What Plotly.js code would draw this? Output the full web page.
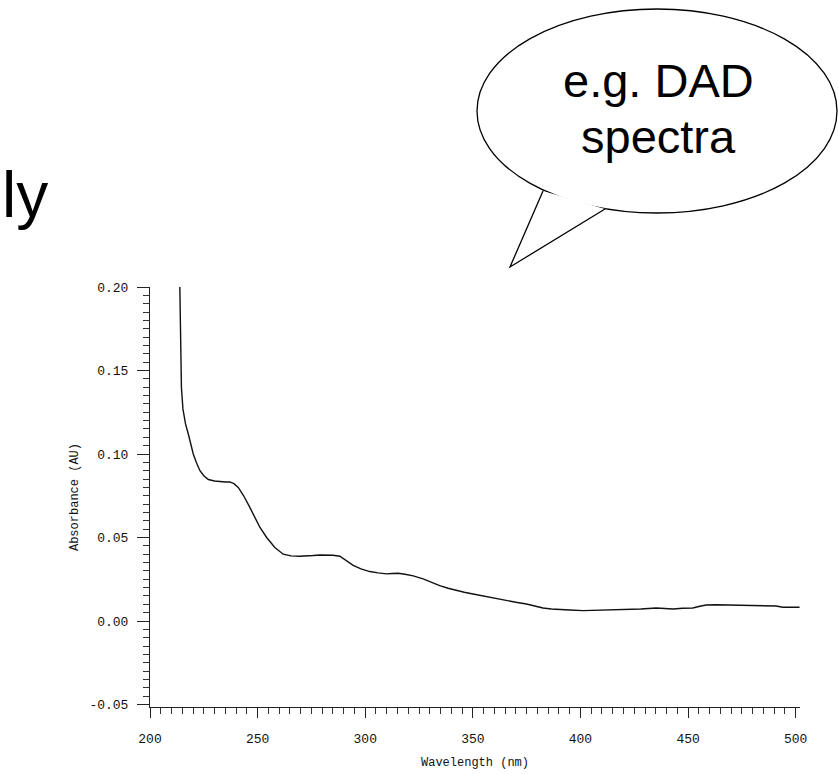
<!DOCTYPE html>
<html>
<head>
<meta charset="utf-8">
<script src="https://cdn.plot.ly/plotly-3.0.1.min.js"></script>
<style>
html,body{margin:0;padding:0;background:#fff;}
#chart{width:838px;height:774px;}
</style>
</head>
<body>
<div id="chart"></div>
<script>
// Wavelength (nm)
const wavelength = [213.8,214.2,214.6,215.3,216.5,217.8,219.0,220.1,221.5,223.2,225.0,227.1,230.0,232.5,235.0,237.1,239.0,241.0,243.5,246.4,249.0,251.1,254.2,258.0,261.9,265.5,269.6,272.5,275.8,279.0,282.0,285.0,288.2,291.0,294.4,298.0,302.1,306.0,309.9,312.5,315.3,318.5,322.3,326.9,330.5,334.6,338.5,342.4,346.0,350.1,354.7,360.0,365.6,370.0,374.9,378.5,382.6,386.5,390.4,395.0,401.2,406.0,412.0,416.5,421.3,428.0,435.2,439.0,443.0,447.5,452.2,455.5,458.4,463.0,469.3,475.0,480.0,486.0,490.9,494.0,498.0,501.8];
// Absorbance (AU)
const absorbance = [0.205,0.160,0.140,0.127,0.118,0.112,0.106,0.100,0.095,0.090,0.087,0.0847,0.0838,0.0833,0.0832,0.0833,0.0822,0.0800,0.0750,0.0680,0.0615,0.0560,0.0500,0.0440,0.0400,0.0390,0.0388,0.0388,0.0392,0.0395,0.0396,0.0394,0.0388,0.0365,0.0333,0.0312,0.0296,0.0288,0.0282,0.0284,0.0286,0.0280,0.0270,0.0252,0.0232,0.0212,0.0196,0.0182,0.0172,0.0162,0.0150,0.0138,0.0122,0.0112,0.0102,0.0090,0.0078,0.0072,0.0068,0.0066,0.0062,0.0064,0.0062,0.0066,0.0070,0.0072,0.0078,0.0076,0.0072,0.0076,0.0078,0.0088,0.0096,0.0097,0.0096,0.0094,0.0094,0.0093,0.0090,0.0082,0.0082,0.0082];
// Tick labels
const xTickVals = [200,250,300,350,400,450,500];
const xTickText = ["200","250","300","350","400","450","500"];
const yTickVals = [-0.05,0.00,0.05,0.10,0.15,0.20];
const yTickText = ["-0.05","0.00","0.05","0.10","0.15","0.20"];
const xTitle = "Wavelength (nm)";
const yTitle = "Absorbance (AU)";
const bubbleLines = ["e.g. DAD","spectra"];
const sideText = "ly";

// page geometry (pixels)
const W = 838, H = 774;
const M = {l:150, r:38, t:287, b:67};
const pw = W - M.l - M.r, ph = H - M.t - M.b;
const px = x => (x - M.l) / pw;          // pixel -> paper x
const py = y => (H - M.b - y) / ph;      // pixel -> paper y

const mono = "'Liberation Mono', 'DejaVu Sans Mono', monospace";
const sans = "'Liberation Sans', Arial, sans-serif";

const trace = {
  x: wavelength, y: absorbance, type: 'scatter', mode: 'lines',
  line: {color: '#111', width: 1.4}, hoverinfo: 'skip'
};

const layout = {
  width: W, height: H,
  margin: M,
  paper_bgcolor: '#fff', plot_bgcolor: '#fff',
  showlegend: false,
  xaxis: {
    range: [200, 502], showgrid: false, zeroline: false,
    showline: true, linecolor: '#222', linewidth: 1,
    ticks: 'outside', ticklen: 10, tickwidth: 1, tickcolor: '#222',
    tickvals: xTickVals, ticktext: xTickText, ticklabelstandoff: 9,
    minor: {dtick: 5, ticks: 'outside', ticklen: 6, tickcolor: '#333', showgrid: false},
    tickfont: {family: mono, size: 13, color: '#111'},
    title: {text: xTitle, font: {family: mono, size: 12, color: '#111'}, standoff: 12}
  },
  yaxis: {
    range: [-0.0515, 0.2], showgrid: false, zeroline: false,
    showline: true, linecolor: '#222', linewidth: 1,
    ticks: 'outside', ticklen: 12, tickwidth: 1, tickcolor: '#222',
    tickvals: yTickVals, ticktext: yTickText, ticklabelstandoff: 6,
    minor: {dtick: 0.005, ticks: 'outside', ticklen: 6, tickcolor: '#333', showgrid: false},
    tickfont: {family: mono, size: 13, color: '#111'},
    title: {text: yTitle, font: {family: mono, size: 12, color: '#111'}, standoff: 8}
  },
  shapes: [
    {type: 'circle', xref: 'paper', yref: 'paper', layer: 'above',
     x0: px(477), x1: px(837), y0: py(213), y1: py(9),
     fillcolor: '#fff', line: {color: '#000', width: 1.3}},
    {type: 'path', xref: 'paper', yref: 'paper', layer: 'above',
     path: `M ${px(543)} ${py(191)} L ${px(510)} ${py(267)} L ${px(605)} ${py(209)}`,
     fillcolor: '#fff', line: {color: '#000', width: 1.3}}
  ],
  annotations: [
    {text: bubbleLines[0], xref: 'paper', yref: 'paper', x: px(658), y: py(80),
     xanchor: 'center', yanchor: 'middle', showarrow: false,
     font: {family: sans, size: 47, color: '#000'}},
    {text: bubbleLines[1], xref: 'paper', yref: 'paper', x: px(658), y: py(137),
     xanchor: 'center', yanchor: 'middle', showarrow: false,
     font: {family: sans, size: 47, color: '#000'}},
    {text: sideText, xref: 'paper', yref: 'paper', x: px(0), y: py(195),
     xanchor: 'left', yanchor: 'middle', showarrow: false,
     font: {family: sans, size: 64, color: '#000'}}
  ]
};

Plotly.newPlot('chart', [trace], layout, {displayModeBar: false, staticPlot: true});
</script>
</body>
</html>
